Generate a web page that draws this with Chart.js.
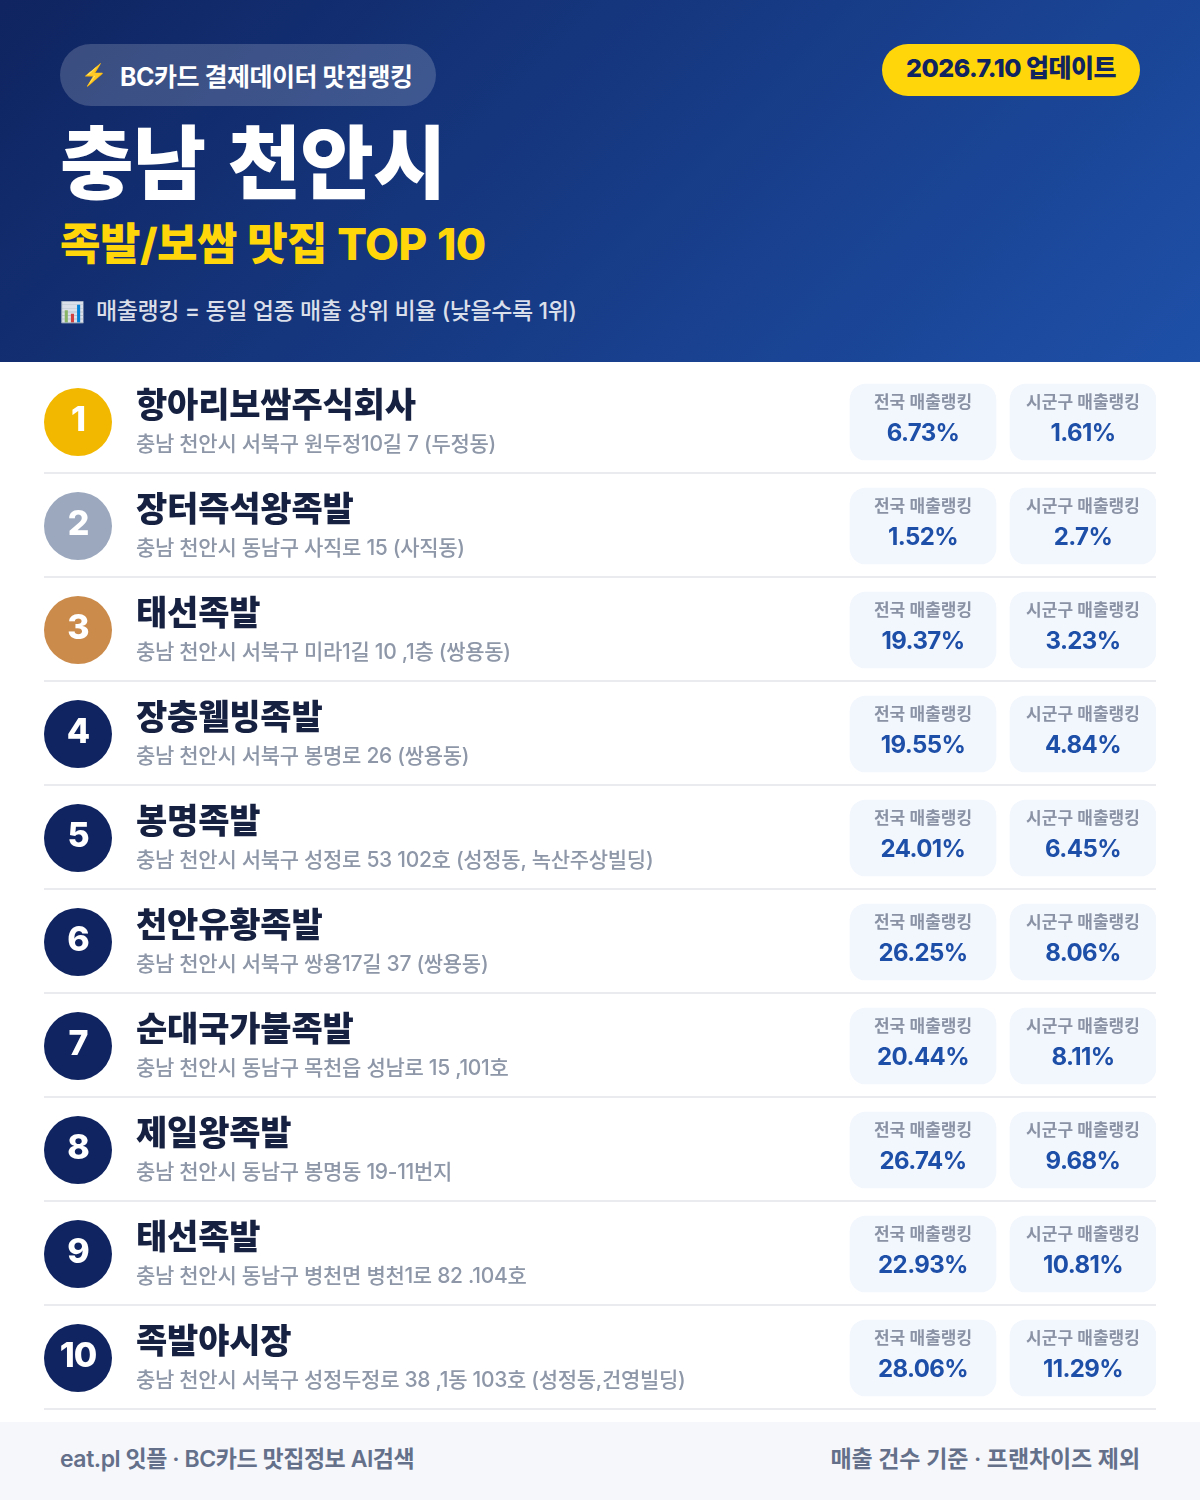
<!DOCTYPE html>
<html lang="ko"><head><meta charset="utf-8">
<script src="https://cdn.jsdelivr.net/npm/chart.js@4"></script>
<style>
*{box-sizing:border-box}
html,body{margin:0;padding:0;background:#fff}
body{width:1200px;height:1500px;position:relative;overflow:hidden;font-family:"Inter","Noto Sans CJK KR",sans-serif}
.abs{position:absolute;white-space:nowrap}
#head{left:0;top:0;width:1200px;height:362px;background:linear-gradient(135deg,#0f2460 0%,#1e50a8 100%)}
#pill{left:60px;top:44px;width:376px;height:62px;border-radius:31px;background:rgba(255,255,255,.18);color:#fff;font-weight:700;font-size:25px;line-height:66px;letter-spacing:-.5px}
#pill .e{position:absolute;left:21px;top:-2px;font-size:21px}
#pill .t{position:absolute;left:60px;top:0}
#date{left:882px;top:44px;width:258px;height:52px;border-radius:26px;background:#ffd60a;color:#0f2460;font-weight:800;font-size:25px;line-height:48px;text-align:center;letter-spacing:-.5px}
#title{left:60px;top:108px;color:#fff;font-weight:800;font-size:80px;line-height:110px;letter-spacing:-1px;word-spacing:6px}
#sub{left:60px;top:214px;color:#ffd60a;font-weight:800;font-size:44px;line-height:60px;letter-spacing:-.5px;word-spacing:1px}
#note{left:60px;top:294px;color:rgba(255,255,255,.85);font-weight:500;font-size:23px;line-height:34px;letter-spacing:-.4px}
#note .e{font-size:20px}
#note .t{position:absolute;left:36px;top:0}
#foot{left:0;top:1422px;width:1200px;height:78px;background:#f6f7fb;color:#64708a;font-weight:600;font-size:23px;line-height:74px;letter-spacing:-.4px}
#fl{left:60px;top:0;letter-spacing:-.45px}#fr{right:60px;top:0;letter-spacing:-.1px}
#c{position:absolute;left:0;top:362px}
</style></head><body>
<div class="abs" id="head"></div>
<div class="abs" id="pill"><span class="e">⚡</span><span class="t">BC카드 결제데이터 맛집랭킹</span></div>
<div class="abs" id="date">2026.7.10 업데이트</div>
<div class="abs" id="title">충남 천안시</div>
<div class="abs" id="sub">족발/보쌈 맛집 TOP 10</div>
<div class="abs" id="note"><span class="e">📊</span><span class="t">매출랭킹 = 동일 업종 매출 상위 비율 (낮을수록 1위)</span></div>
<div class="abs" id="foot"><span class="abs" id="fl">eat.pl 잇플 · BC카드 맛집정보 AI검색</span><span class="abs" id="fr">매출 건수 기준 · 프랜차이즈 제외</span></div>
<canvas id="c" width="1200" height="1060"></canvas>
<script>
const ranks=["1","2","3","4","5","6","7","8","9","10"];
const names=["항아리보쌈주식회사","장터즉석왕족발","태선족발","장충웰빙족발","봉명족발","천안유황족발","순대국가불족발","제일왕족발","태선족발","족발야시장"];
const addresses=["충남 천안시 서북구 원두정10길 7 (두정동)","충남 천안시 동남구 사직로 15 (사직동)","충남 천안시 서북구 미라1길 10 ,1층 (쌍용동)","충남 천안시 서북구 봉명로 26 (쌍용동)","충남 천안시 서북구 성정로 53 102호 (성정동, 녹산주상빌딩)","충남 천안시 서북구 쌍용17길 37 (쌍용동)","충남 천안시 동남구 목천읍 성남로 15 ,101호","충남 천안시 동남구 봉명동 19-11번지","충남 천안시 동남구 병천면 병천1로 82 .104호","충남 천안시 서북구 성정두정로 38 ,1동 103호 (성정동,건영빌딩)"];
const nationalRank=["6.73%","1.52%","19.37%","19.55%","24.01%","26.25%","20.44%","26.74%","22.93%","28.06%"];
const localRank=["1.61%","2.7%","3.23%","4.84%","6.45%","8.06%","8.11%","9.68%","10.81%","11.29%"];
const medalColors=["#f2b800","#9ba8be","#cb8b4b"];
const navy="#0f2460";
const FONT='"Inter","Noto Sans CJK KR",sans-serif';
const NATL=[850,996],LOCL=[1010,1156],BADGE=78,TEXTX=136;

const rowText={id:'rowText',
 beforeDatasetsDraw(ch){
  const c=ch.ctx,y=ch.scales.y,a=ch.chartArea;
  c.save();c.fillStyle='#e9ebef';
  ranks.forEach((r,i)=>{c.fillRect(a.left,y.getPixelForValue(i)+50,a.right-a.left,2);});
  c.restore();
 },
 afterDatasetsDraw(ch){
  const c=ch.ctx,x=ch.scales.x,y=ch.scales.y;
  const put=(s,px,py,font,col,al,ls)=>{c.font=font+' '+FONT;c.fillStyle=col;c.textAlign=al;c.textBaseline='alphabetic';c.letterSpacing=ls;c.fillText(s,px,py);};
  c.save();
  ranks.forEach((r,i)=>{
   const m=y.getPixelForValue(i);
   put(r,x.getPixelForValue(BADGE),m+9,'800 34px','#fff','center','-1px');
   put(names[i],x.getPixelForValue(TEXTX),m-5,'800 34px','#162040','left','-0.2px');
   put(addresses[i],x.getPixelForValue(TEXTX),m+29,'500 21px','#8d97a8','left','-0.3px');
   const nc=x.getPixelForValue((NATL[0]+NATL[1])/2),lc=x.getPixelForValue((LOCL[0]+LOCL[1])/2);
   put('전국 매출랭킹',nc,m-14,'600 17px','#8a93a5','center','0px');
   put('시군구 매출랭킹',lc,m-14,'600 17px','#8a93a5','center','0px');
   put(nationalRank[i],nc,m+19,'700 24px','#1e4fa8','center','-0.6px');
   put(localRank[i],lc,m+19,'700 24px','#1e4fa8','center','-0.6px');
  });
  c.restore();
 }};

new Chart(document.getElementById('c'),{
 type:'bar',
 plugins:[rowText],
 data:{labels:ranks,datasets:[
  {label:'전국 매출랭킹',data:ranks.map(()=>NATL),backgroundColor:'#f2f6fd',borderRadius:16,borderSkipped:false,barThickness:76,grouped:false,order:2},
  {label:'시군구 매출랭킹',data:ranks.map(()=>LOCL),backgroundColor:'#f2f6fd',borderRadius:16,borderSkipped:false,barThickness:76,grouped:false,order:2},
  {type:'line',label:'순위',indexAxis:'y',data:ranks.map(()=>BADGE),showLine:false,pointRadius:34,pointHoverRadius:34,pointBorderWidth:0,
   pointBackgroundColor:ranks.map((r,i)=>medalColors[i]||navy),order:1}
 ]},
 options:{indexAxis:'y',responsive:false,animation:false,devicePixelRatio:1,
  layout:{autoPadding:false,padding:{top:8,bottom:12,left:44,right:44}},
  plugins:{legend:{display:false},tooltip:{enabled:false}},
  scales:{
   x:{type:'linear',display:false,min:44,max:1156},
   y:{type:'category',display:false,offset:true}
  }}
});
</script>
</body></html>
